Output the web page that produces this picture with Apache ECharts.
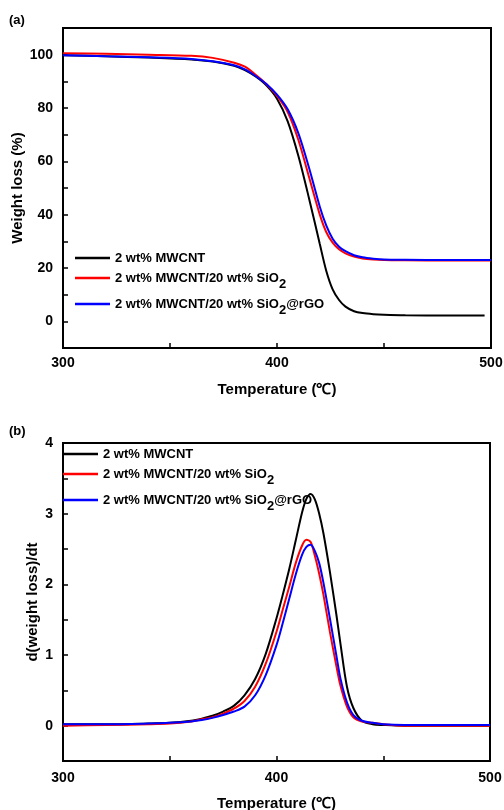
<!DOCTYPE html>
<html>
<head>
<meta charset="utf-8">
<script src="https://cdn.jsdelivr.net/npm/echarts@6/dist/echarts.min.js"></script>
<style>
  html, body { margin: 0; padding: 0; background: #fff; }
  #chart { width: 504px; height: 810px; }
</style>
</head>
<body>
<div id="chart"></div>
<script>
// series names
var names = ['2 wt% MWCNT', '2 wt% MWCNT/20 wt% SiO2', '2 wt% MWCNT/20 wt% SiO2@rGO'];
var colors = ['#000000', '#ff0000', '#0000ff'];

// (a) TGA, weight loss (%)
var tgaTemp    = [300, 320, 340, 360, 370, 380, 385, 390, 395, 400, 405, 410, 415, 420, 423, 426, 429, 432, 436, 440, 445, 450, 460, 480, 500];
var tgaMWCNT   = [99.8, 99.4, 98.9, 98.2, 97.4, 95.8, 94.2, 91.8, 88.5, 83.5, 75, 62, 46, 29, 19, 12, 8, 5.5, 3.8, 3.1, 2.7, 2.5, 2.3, 2.2, 2.2];
var tgaSiO2    = [100.5, 100.3, 100, 99.6, 98.8, 97, 95.5, 92.5, 89, 84.5, 78.5, 68, 54, 40, 33.5, 29.5, 27, 25.5, 24.3, 23.6, 23.2, 23, 22.9, 22.8, 22.8];
var tgaSiO2rGO = [99.8, 99.4, 99, 98.4, 97.5, 96, 94.5, 92, 89, 85, 79.5, 70.5, 57.5, 43, 36, 31, 28, 26.3, 24.8, 24, 23.5, 23.2, 23.1, 23, 23];
var tgaEnd = [497, 500, 500];

// (b) DTG, d(weight loss)/dt
var dtgTemp    = [300, 320, 340, 350, 360, 365, 370, 375, 380, 385, 390, 395, 400, 403, 406, 409, 412, 414, 416, 418, 420, 422, 425, 428, 430, 433, 436, 440, 445, 450, 460, 480, 500];
var dtgMWCNT   = [0.02, 0.02, 0.03, 0.04, 0.07, 0.1, 0.14, 0.2, 0.28, 0.43, 0.66, 1.02, 1.52, 1.86, 2.22, 2.62, 3.02, 3.21, 3.28, 3.2, 3.0, 2.72, 2.18, 1.58, 1.15, 0.55, 0.25, 0.07, 0.02, 0.01, 0, 0, 0];
var dtgSiO2    = [0.0, 0.01, 0.02, 0.03, 0.06, 0.09, 0.12, 0.17, 0.24, 0.35, 0.55, 0.88, 1.33, 1.65, 1.97, 2.3, 2.55, 2.63, 2.6, 2.4, 2.15, 1.85, 1.33, 0.85, 0.56, 0.27, 0.12, 0.06, 0.04, 0.02, 0, 0, 0];
var dtgSiO2rGO = [0.02, 0.02, 0.03, 0.04, 0.06, 0.08, 0.11, 0.15, 0.2, 0.27, 0.43, 0.72, 1.14, 1.46, 1.8, 2.14, 2.42, 2.53, 2.56, 2.47, 2.3, 2.02, 1.52, 1.0, 0.66, 0.33, 0.15, 0.07, 0.04, 0.02, 0.01, 0.01, 0.01];

var FONT = '"Liberation Sans", Arial, sans-serif';

function pairs(xs, ys) {
  return xs.map(function (x, i) { return [x, ys[i]]; });
}

// one legend per row, rows are not evenly spaced in the original
function legendAt(name, left, top) {
  return {
    data: [{ name: name, icon: 'rect' }],
    left: left,
    top: top,
    padding: 0,
    itemWidth: 35,
    itemHeight: 2.5,
    selectedMode: false,
    formatter: function (n) { return n.replace('SiO2', 'SiO{sub|2}'); },
    textStyle: {
      fontFamily: FONT, fontWeight: 'bold', fontSize: 13, color: '#000', lineHeight: 26,
      rich: {
        sub: { fontFamily: FONT, fontWeight: 'bold', fontSize: 13, color: '#000', lineHeight: 14, padding: [12, 0, 0, 0] }
      }
    }
  };
}

function xAxisFor(gridIndex, margin, nameGap) {
  return {
    type: 'value', gridIndex: gridIndex, min: 300, max: 500, interval: 50,
    name: 'Temperature (\u2103)', nameLocation: 'middle', nameGap: nameGap,
    nameTextStyle: { fontFamily: FONT, fontWeight: 'bold', fontSize: 15, color: '#000' },
    axisLine: { show: true, onZero: false, lineStyle: { color: '#000', width: 2 } },
    axisTick: { show: true, inside: true, length: 5, lineStyle: { color: '#000', width: 1.5 } },
    axisLabel: {
      margin: margin, fontFamily: FONT, fontWeight: 'bold', fontSize: 14, color: '#000',
      formatter: function (v) { return v % 100 === 0 ? String(v) : ''; }
    },
    splitLine: { show: false }
  };
}

var option = {
  animation: false,
  backgroundColor: '#fff',
  title: [
    { text: '(a)', left: 9, top: 14, padding: 0, textStyle: { fontFamily: FONT, fontWeight: 'bold', fontSize: 13, color: '#000' } },
    { text: '(b)', left: 9, top: 425, padding: 0, textStyle: { fontFamily: FONT, fontWeight: 'bold', fontSize: 13, color: '#000' } }
  ],
  grid: [
    { left: 63, right: 13, top: 28, height: 320, outerBoundsMode: 'none', show: true, borderColor: '#000', borderWidth: 2, backgroundColor: 'transparent' },
    { left: 63, right: 14, top: 443, height: 318, outerBoundsMode: 'none', show: true, borderColor: '#000', borderWidth: 2, backgroundColor: 'transparent' }
  ],
  legend: [
    legendAt(names[0], 75, 245),
    legendAt(names[1], 75, 265),
    legendAt(names[2], 75, 291),
    legendAt(names[0], 63, 441),
    legendAt(names[1], 63, 461),
    legendAt(names[2], 63, 487)
  ],
  xAxis: [xAxisFor(0, 8, 34), xAxisFor(1, 10, 35)],
  yAxis: [
    {
      type: 'value', gridIndex: 0, min: -10, max: 110, interval: 10,
      name: 'Weight loss (%)', nameLocation: 'middle', nameGap: 38, nameMoveOverlap: false,
      nameTextStyle: { fontFamily: FONT, fontWeight: 'bold', fontSize: 15, color: '#000' },
      axisLine: { show: true, onZero: false, lineStyle: { color: '#000', width: 2 } },
      axisTick: { show: true, inside: true, length: 5, lineStyle: { color: '#000', width: 1.5 } },
      axisLabel: {
        margin: 10, fontFamily: FONT, fontWeight: 'bold', fontSize: 14, color: '#000',
        formatter: function (v) { return (v % 20 === 0 && v >= 0 && v <= 100) ? String(v) : ''; }
      },
      splitLine: { show: false }
    },
    {
      type: 'value', gridIndex: 1, min: -0.5, max: 4, interval: 0.5,
      name: 'd(weight loss)/dt', nameLocation: 'middle', nameGap: 23, nameMoveOverlap: false,
      nameTextStyle: { fontFamily: FONT, fontWeight: 'bold', fontSize: 15, color: '#000' },
      axisLine: { show: true, onZero: false, lineStyle: { color: '#000', width: 2 } },
      axisTick: { show: true, inside: true, length: 5, lineStyle: { color: '#000', width: 1.5 } },
      axisLabel: {
        margin: 10, fontFamily: FONT, fontWeight: 'bold', fontSize: 14, color: '#000',
        formatter: function (v) { return (Number.isInteger(v) && v >= 0) ? String(v) : ''; }
      },
      splitLine: { show: false }
    }
  ],
  series: []
};

var tgaSets = [tgaMWCNT, tgaSiO2, tgaSiO2rGO];
var dtgSets = [dtgMWCNT, dtgSiO2, dtgSiO2rGO];

tgaSets.forEach(function (ys, i) {
  var xs = tgaTemp.slice(0, -1).concat([tgaEnd[i]]);
  option.series.push({
    name: names[i], type: 'line', xAxisIndex: 0, yAxisIndex: 0,
    data: pairs(xs, ys), smooth: 0.3, showSymbol: false,
    color: colors[i], lineStyle: { color: colors[i], width: 2 }
  });
});

dtgSets.forEach(function (ys, i) {
  option.series.push({
    name: names[i], type: 'line', xAxisIndex: 1, yAxisIndex: 1,
    data: pairs(dtgTemp, ys), smooth: 0.3, showSymbol: false,
    color: colors[i], lineStyle: { color: colors[i], width: 2 }
  });
});

var myChart = echarts.init(document.getElementById('chart'));
myChart.setOption(option);
</script>
</body>
</html>
